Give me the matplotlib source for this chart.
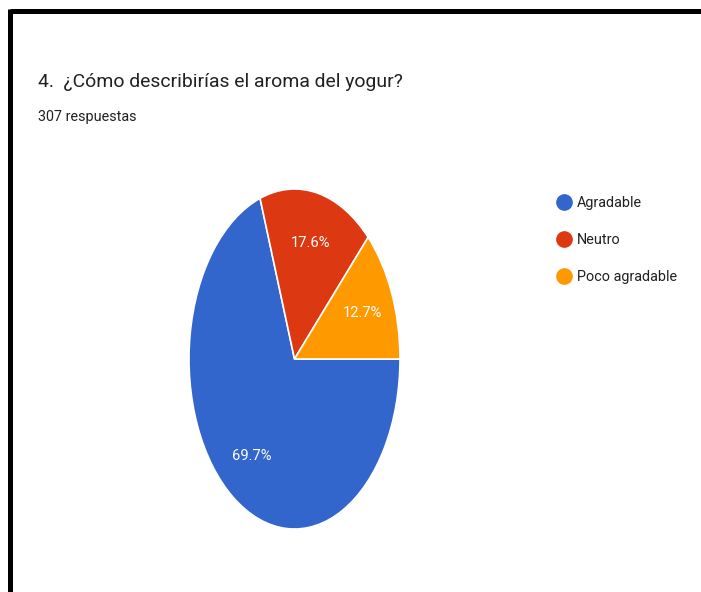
import matplotlib
matplotlib.use("Agg")
import matplotlib.pyplot as plt
from matplotlib import font_manager as fm
from matplotlib.lines import Line2D

# ---- data ----
title = "4.  ¿Cómo describirías el aroma del yogur?"
subtitle = "307 respuestas"
categories = ["Agradable", "Neutro", "Poco agradable"]
counts = [214, 54, 39]
colors = ["#3366CC", "#DC3912", "#FF9900"]

names = {f.name for f in fm.fontManager.ttflist}
if "Liberation Sans Narrow" in names:
    FONT = "Liberation Sans Narrow"
    scale = 1.0
else:
    FONT = "Roboto"
    scale = 0.82
plt.rcParams["font.family"] = [FONT, "DejaVu Sans"]

W, H = 701, 592
fig = plt.figure(figsize=(W / 100, H / 100), dpi=100)
fig.patch.set_facecolor("white")

def fx(x):
    return x / W

def fy(y):
    return 1 - y / H

# frame lines (top and left)
fig.add_artist(Line2D([fx(9.5), fx(701)], [fy(11), fy(11)], color="black", lw=3.6,
                      solid_capstyle="butt", transform=fig.transFigure))
fig.add_artist(Line2D([fx(9.5), fx(9.5)], [fy(9.2), fy(592)], color="black", lw=3.6,
                      solid_capstyle="butt", transform=fig.transFigure))

fig.text(fx(38), fy(87), title, fontsize=17 * scale, color="#202124", va="baseline", ha="left")
fig.text(fx(38), fy(121), subtitle, fontsize=12.6 * scale, color="#202124", va="baseline", ha="left")

# pie (elliptical, as in the reference)
left, right, top, bottom = 189, 400, 189, 529
ax = fig.add_axes([fx(left), fy(bottom), (right - left) / W, (bottom - top) / H])
wedges, texts, autotexts = ax.pie(
    counts, colors=colors, startangle=0, counterclock=False,
    autopct="%.1f%%", pctdistance=0.7,
    wedgeprops=dict(edgecolor="white", linewidth=1.2),
    textprops=dict(color="white", fontsize=13 * scale),
)
ax.set_aspect("auto")
ax.set_xlim(-1, 1)
ax.set_ylim(-1, 1)
ax.axis("off")

handles = [Line2D([], [], marker="o", linestyle="none", markersize=11,
                  markerfacecolor=c, markeredgecolor=c) for c in colors]
fig.legend(handles, categories, loc="upper left",
           bbox_to_anchor=(fx(548), fy(189)), frameon=False,
           fontsize=12.6 * scale, labelspacing=1.6, handletextpad=0.3,
           handlelength=1.2, borderpad=0, labelcolor="#202124")

fig.savefig("out.png", dpi=100, facecolor="white")
